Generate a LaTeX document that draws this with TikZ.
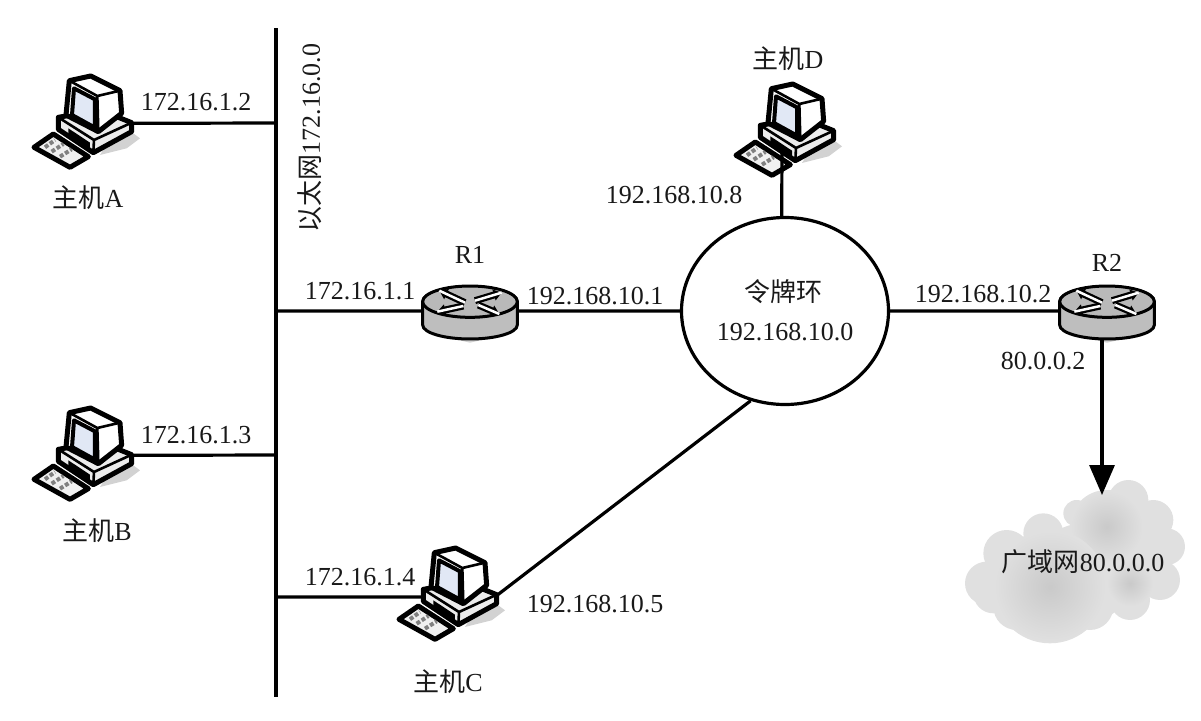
\documentclass[tikz,border=0pt]{standalone}
\usepackage{fontspec}
\setmainfont{Liberation Serif}
\newfontfamily\cjk{Noto Sans CJK SC}
\usetikzlibrary{arrows.meta,shapes.geometric}
\definecolor{mygray}{RGB}{190,190,190}
\definecolor{myscreen}{RGB}{225,232,245}
\tikzset{
  pics/pcbox/.style={code={
    \begin{scope}[x=0.3333pt,y=-0.3333pt,line join=round,line width=2.6pt]
      % shadow and keyboard
      \fill[gray!35] (300,190) -- (360,235) -- (320,265) -- (240,285) -- cycle;
      \filldraw[fill=gray!12,line width=5pt] (42,262) -- (100,222) -- (205,290) -- (150,322) -- cycle;
      \draw[gray,line width=4pt,dotted] (75,262) -- (105,240) (95,275) -- (130,252) (120,290) -- (155,268);
      % base
      \filldraw[fill=gray!15,line width=5pt] (115,172) -- (240,150) -- (335,188) -- (335,215) -- (220,278) -- (115,208) -- cycle;
      \draw (115,172) -- (222,240) -- (335,188) (222,240) -- (220,278);
      \fill (145,205) -- (210,248) -- (210,272) -- (145,225) -- cycle;
      % monitor
      \filldraw[fill=white,line width=5pt] (148,62) -- (212,48) -- (300,92) -- (305,160) -- (235,215) -- (138,165) -- cycle;
      \draw (148,62) -- (232,108) -- (300,92) (232,108) -- (235,215);
      \filldraw[fill=myscreen,line width=4pt] (162,85) -- (225,118) -- (225,203) -- (156,165) -- cycle;
      \coordinate (-port) at (336,190);
      \coordinate (-west) at (115,195);
      \coordinate (-bottom) at (180,250);
    \end{scope}}},
  pics/routerbox/.style={code={
    \begin{scope}[x=0.3333pt,y=-0.3333pt,line width=2.6pt]
      \fill[gray!35] (130,230) -- (290,230) -- (210,248) -- cycle;
      \filldraw[fill=mygray,line width=3pt] (68,125) -- (68,195) arc[start angle=180,end angle=0,x radius=142,y radius=42]
        -- (352,125) arc[start angle=0,end angle=-180,x radius=142,y radius=45] -- cycle;
      \draw[line width=3pt,fill=gray!55] (210,125) ellipse[x radius=142,y radius=47];
      \foreach \tx/\ty/\hx/\hy in {195/128/118/92, 225/122/305/98, 190/138/112/155, 235/135/298/162}{
        \draw[line width=7pt,-{Triangle[length=8pt,width=11pt]}] (\tx,\ty) -- (\hx,\hy);
        \draw[white,line width=2.5pt] (\tx,\ty) -- (\hx,\hy);
      }
      \coordinate (-west) at (68,153);
      \coordinate (-east) at (352,153);
      \coordinate (-south) at (210,240);
    \end{scope}}},
  pics/cloudbox/.style={code={
    \begin{scope}[x=0.3333pt,y=-0.3333pt]
      \foreach \cx/\cy/\cr in {110/430/65,170/340/70,280/280/60,380/220/40,450/210/50,535/180/60,610/240/60,650/320/55,630/420/60,540/480/60,420/500/70,300/510/75,200/500/70,130/460/60,400/400/150,250/420/130,500/350/150}
        \fill[gray!24] (\cx,\cy) circle[radius=\cr];
      \foreach \cx/\cy/\cr in {470/260/110,300/440/170,540/430/70}
        \shade[inner color=gray!42,outer color=gray!24] (\cx,\cy) circle[radius=\cr];
    \end{scope}}}
}
\begin{document}
\begin{tikzpicture}[x=1pt,y=-1pt,
  wire/.style={line width=3.2pt},
  lbl/.style={font=\fontsize{26}{30}\selectfont,inner sep=0pt,text=black!90}]

  \useasboundingbox (0,0) rectangle (1201,720);

  \pic (cloud) at (950,440) {cloudbox};
  \pic (hosta) at (20,60) {pcbox};
  \pic (hostb) at (20,392) {pcbox};
  \pic (hostc) at (385,532) {pcbox};
  \pic (hostd) at (722,68) {pcbox};
  \pic (r1) at (400,260) {routerbox};
  \pic (r2) at (1037,260) {routerbox};

  \node[draw,ellipse,line width=3.2pt,minimum width=207pt,minimum height=187pt,inner sep=0pt] (ring) at (785,311) {};

  % bus and where things join it
  \coordinate (bustop) at (276,28);
  \coordinate (busbot) at (276,697);
  \coordinate (busa) at (276,123);
  \coordinate (busb) at (276,455);
  \coordinate (busr) at (276,311);
  \coordinate (busc) at (276,597);
  \coordinate (wantop) at (1102,495);
  \coordinate (r2drop) at (1102,340);
  \draw[wire] (bustop) -- (busbot);

  \draw[wire] (hosta-port) -- (busa);
  \draw[wire] (hostb-port) -- (busb);
  \draw[wire] (busr) -- (r1-west);
  \draw[wire] (busc) -- (hostc-west);
  \draw[wire] (r1-east) -- (ring.west);
  \draw[wire] (ring.east) -- (r2-west);
  \draw[wire] (hostd-bottom) -- (ring.92);
  \draw[wire] (hostc-port) -- (ring.249);
  \draw[wire,-{Triangle[length=30pt,width=25pt]}] (r2drop) -- (wantop);

  % labels
  \node[lbl] (ipa) at (196,102) {172.16.1.2};
  \node[lbl] (ipb) at (196,435) {172.16.1.3};
  \node[lbl] (ipc) at (360,577) {172.16.1.4};
  \node[lbl] (ipr) at (360,291) {172.16.1.1};
  \node[lbl] (namea) at (88,198) {{\cjk 主机}A};
  \node[lbl] (nameb) at (97,531) {{\cjk 主机}B};
  \node[lbl] (namec) at (448,682) {{\cjk 主机}C};
  \node[lbl] (named) at (788,59) {{\cjk 主机}D};
  \node[lbl,rotate=90] (etherlbl) at (310,138) {{\cjk 以太网}172.16.0.0};
  \node[lbl] (r1lbl) at (470,255) {R1};
  \node[lbl] (r2lbl) at (1107,263) {R2};
  \node[lbl] (ipr1) at (595,296) {192.168.10.1};
  \node[lbl] (ipr2) at (983,294) {192.168.10.2};
  \node[lbl] (ipc2) at (595,604) {192.168.10.5};
  \node[lbl] (ipd) at (674,195) {192.168.10.8};
  \node[lbl] (ringa) at (783,292) {\cjk 令牌环};
  \node[lbl] (ringb) at (785,332) {192.168.10.0};
  \node[lbl] (ipwan) at (1043,361) {80.0.0.2};
  \node[lbl] (wanlbl) at (1083,562) {{\cjk 广域网}80.0.0.0};

\end{tikzpicture}
\end{document}
